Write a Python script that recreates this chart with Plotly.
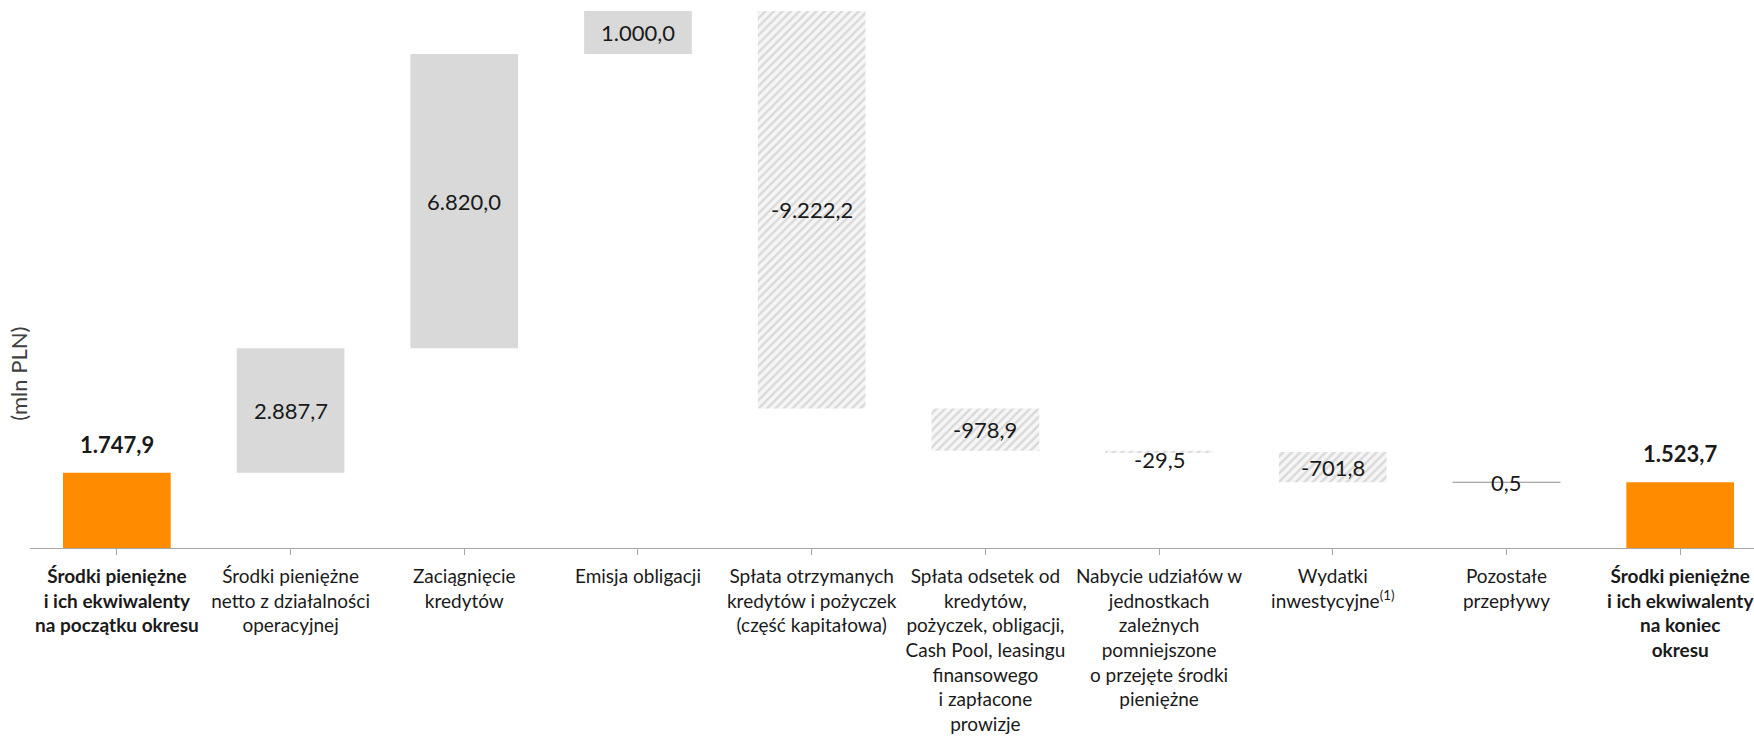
import plotly.graph_objects as go

categories = [
    "<b>Środki pieniężne<br>i ich ekwiwalenty<br>na początku okresu</b>",
    "Środki pieniężne<br>netto z działalności<br>operacyjnej",
    "Zaciągnięcie<br>kredytów",
    "Emisja obligacji",
    "Spłata otrzymanych<br>kredytów i pożyczek<br>(część kapitałowa)",
    "Spłata odsetek od<br>kredytów,<br>pożyczek, obligacji,<br>Cash Pool, leasingu<br>finansowego<br>i zapłacone<br>prowizje",
    "Nabycie udziałów w<br>jednostkach<br>zależnych<br>pomniejszone<br>o przejęte środki<br>pieniężne",
    "Wydatki<br>inwestycyjne<sup>(1)</sup>",
    "Pozostałe<br>przepływy",
    "<b>Środki pieniężne<br>i ich ekwiwalenty<br>na koniec<br>okresu</b>",
]
values = [1747.9, 2887.7, 6820.0, 1000.0, -9222.2, -978.9, -29.5, -701.8, 0.5, 1523.7]
kinds = ["total", "delta", "delta", "delta", "delta", "delta", "delta", "delta", "delta", "total"]
y_title = "(mln PLN)"

ORANGE = "#FF8C00"
GRAY = "#D9D9D9"
TEXT = "#1a1a1a"
FONT = "Lato"


def pl_fmt(v):
    s = f"{v:,.1f}"
    return s.replace(",", "X").replace(".", ",").replace("X", ".")


x = list(range(len(categories)))
bases, heights = [], []
running = 0.0
for v, k in zip(values, kinds):
    if k == "total":
        bases.append(0.0)
        heights.append(v)
        running = v
    else:
        if v >= 0:
            bases.append(running)
            heights.append(v)
        else:
            bases.append(running + v)
            heights.append(-v)
        running += v

fig = go.Figure()

tot_idx = [i for i, k in enumerate(kinds) if k == "total"]
inc_idx = [i for i, (k, v) in enumerate(zip(kinds, values)) if k == "delta" and v >= 0]
dec_idx = [i for i, (k, v) in enumerate(zip(kinds, values)) if k == "delta" and v < 0]

fig.add_trace(go.Bar(
    x=[x[i] for i in tot_idx], y=[heights[i] for i in tot_idx], base=[bases[i] for i in tot_idx],
    width=0.62, marker=dict(color=ORANGE, line=dict(width=0)), hoverinfo="skip"))

fig.add_trace(go.Bar(
    x=[x[i] for i in inc_idx], y=[heights[i] for i in inc_idx], base=[bases[i] for i in inc_idx],
    width=0.62,
    marker=dict(color=GRAY,
                line=dict(width=[1 if abs(values[i]) < 50 else 0 for i in inc_idx], color="#a6a6a6")),
    hoverinfo="skip"))

fig.add_trace(go.Bar(
    x=[x[i] for i in dec_idx], y=[heights[i] for i in dec_idx], base=[bases[i] for i in dec_idx],
    width=0.62,
    marker=dict(color="white", line=dict(width=0),
                pattern=dict(shape="/", fgcolor="#bcbcbc", bgcolor="#f6f6f6", size=6, solidity=0.4)),
    hoverinfo="skip"))

annotations = []
for i, (v, k) in enumerate(zip(values, kinds)):
    if k == "total":
        annotations.append(dict(x=x[i], y=bases[i] + heights[i], xref="x", yref="y",
                                text=f"<b>{pl_fmt(v)}</b>", showarrow=False, yanchor="bottom",
                                yshift=13, font=dict(family=FONT, size=22, color=TEXT)))
    else:
        shift = -8 if abs(v) < 50 and v < 0 else 0
        annotations.append(dict(x=x[i], y=bases[i] + heights[i] / 2, xref="x", yref="y",
                                text=pl_fmt(v), showarrow=False, yanchor="middle", yshift=shift,
                                font=dict(family=FONT, size=22, color=TEXT)))

annotations.append(dict(x=-0.0064, y=0.318, xref="paper", yref="paper", text=y_title,
                        textangle=-90, showarrow=False, xanchor="center", yanchor="middle",
                        font=dict(family=FONT, size=22, color="#404040")))

fig.update_layout(
    width=1754, height=740,
    margin=dict(l=30, r=0, t=0, b=192),
    paper_bgcolor="white", plot_bgcolor="white",
    showlegend=False, barmode="overlay",
    annotations=annotations,
    font=dict(family=FONT, color=TEXT),
    xaxis=dict(
        tickmode="array", tickvals=x, ticktext=categories,
        range=[-0.5, 9.425], showline=True, linecolor="#a6a6a6", linewidth=1,
        ticks="outside", tickson="boundaries", ticklen=6, tickcolor="#a6a6a6",
        ticklabelstandoff=5, ticklabeloverflow="allow",
        tickfont=dict(family=FONT, size=19, color=TEXT), showgrid=False, zeroline=False,
        tickangle=0, automargin=False,
    ),
    yaxis=dict(range=[0, 12711], showgrid=False, zeroline=False, showticklabels=False,
               showline=False, ticks="", automargin=False),
)

fig.write_html("out.html")
